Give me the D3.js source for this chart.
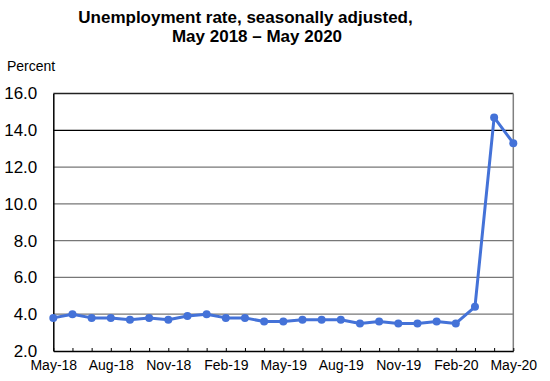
<!DOCTYPE html>
<html><head><meta charset="utf-8">
<script src="https://cdn.jsdelivr.net/npm/d3@7"></script>
<style>body{margin:0;background:#fff}svg{display:block;font-family:"Liberation Sans",Arial,sans-serif}</style>
</head><body><svg id="c" width="550" height="381"></svg>
<script>
const months = ["May-18","Jun-18","Jul-18","Aug-18","Sep-18","Oct-18","Nov-18","Dec-18","Jan-19","Feb-19","Mar-19","Apr-19","May-19","Jun-19","Jul-19","Aug-19","Sep-19","Oct-19","Nov-19","Dec-19","Jan-20","Feb-20","Mar-20","Apr-20","May-20"];
const rate = [3.8,4.0,3.8,3.8,3.7,3.8,3.7,3.9,4.0,3.8,3.8,3.6,3.6,3.7,3.7,3.7,3.5,3.6,3.5,3.5,3.6,3.5,4.4,14.7,13.3];
const xTickLabels = ["May-18","Aug-18","Nov-18","Feb-19","May-19","Aug-19","Nov-19","Feb-20","May-20"];
const yTicks = [2,4,6,8,10,12,14,16];
const titleLines = ["Unemployment rate, seasonally adjusted,","May 2018 \u2013 May 2020"];

const svg = d3.select("#c");
const L = 53.3, R = 513.3, T = 93.5, B = 351;
const x = d3.scalePoint().domain(months).range([L, R]);
const y = d3.scaleLinear().domain([2, 16]).range([B, T]);

// title
svg.append("text").attr("x", 245.5).attr("y", 23).attr("text-anchor","middle")
  .attr("font-size", 17).attr("font-weight","bold").text(titleLines[0]);
svg.append("text").attr("x", 257).attr("y", 42).attr("text-anchor","middle")
  .attr("font-size", 17).attr("font-weight","bold").text(titleLines[1]);
svg.append("text").attr("x", 7).attr("y", 71).attr("font-size", 14).text("Percent");

// gridlines
svg.append("g").selectAll("line").data(yTicks.filter(d => d > 2 && d < 16)).join("line")
  .attr("x1", L).attr("x2", R).attr("y1", d => y(d)).attr("y2", d => y(d))
  .attr("stroke", d => d === 14 ? "#000" : "#777").attr("stroke-width", 1.2);
// top & right border
svg.append("line").attr("x1", L).attr("x2", R).attr("y1", T).attr("y2", T).attr("stroke", "#222").attr("stroke-width", 1.3);
svg.append("line").attr("x1", R).attr("x2", R).attr("y1", T).attr("y2", B).attr("stroke", "#808080").attr("stroke-width", 1.5);

// y axis
const yAxis = d3.axisLeft(y).tickValues(yTicks).tickFormat(d3.format(".1f")).tickSize(0).tickPadding(16);
const gy = svg.append("g").attr("transform", `translate(${L},0)`).call(yAxis);
gy.select(".domain").attr("stroke", "#000").attr("stroke-width", 1.5);
gy.selectAll("text").attr("font-size", 17).attr("fill", "#000").attr("font-family", "Liberation Sans, Arial, sans-serif");

// x axis (ticks pointing inward)
const xAxis = d3.axisBottom(x).tickSize(-3).tickSizeOuter(0)
  .tickFormat(d => xTickLabels.includes(d) ? d : "").tickPadding(9);
const gx = svg.append("g").attr("transform", `translate(0,${B})`).call(xAxis);
gx.select(".domain").attr("stroke", "#000").attr("stroke-width", 1.5);
gx.selectAll(".tick line").attr("stroke", "#000").attr("stroke-width", 1);
gx.selectAll("text").attr("font-size", 14).attr("fill", "#000").attr("font-family", "Liberation Sans, Arial, sans-serif");

// line
const color = "#4472D8";
svg.append("path").datum(rate)
  .attr("d", d3.line().x((d, i) => x(months[i])).y(d => y(d)))
  .attr("fill", "none").attr("stroke", color).attr("stroke-width", 3).attr("stroke-linejoin", "round");
svg.append("g").selectAll("circle").data(rate).join("circle")
  .attr("cx", (d, i) => x(months[i])).attr("cy", d => y(d)).attr("r", 4).attr("fill", color);
</script></body></html>
